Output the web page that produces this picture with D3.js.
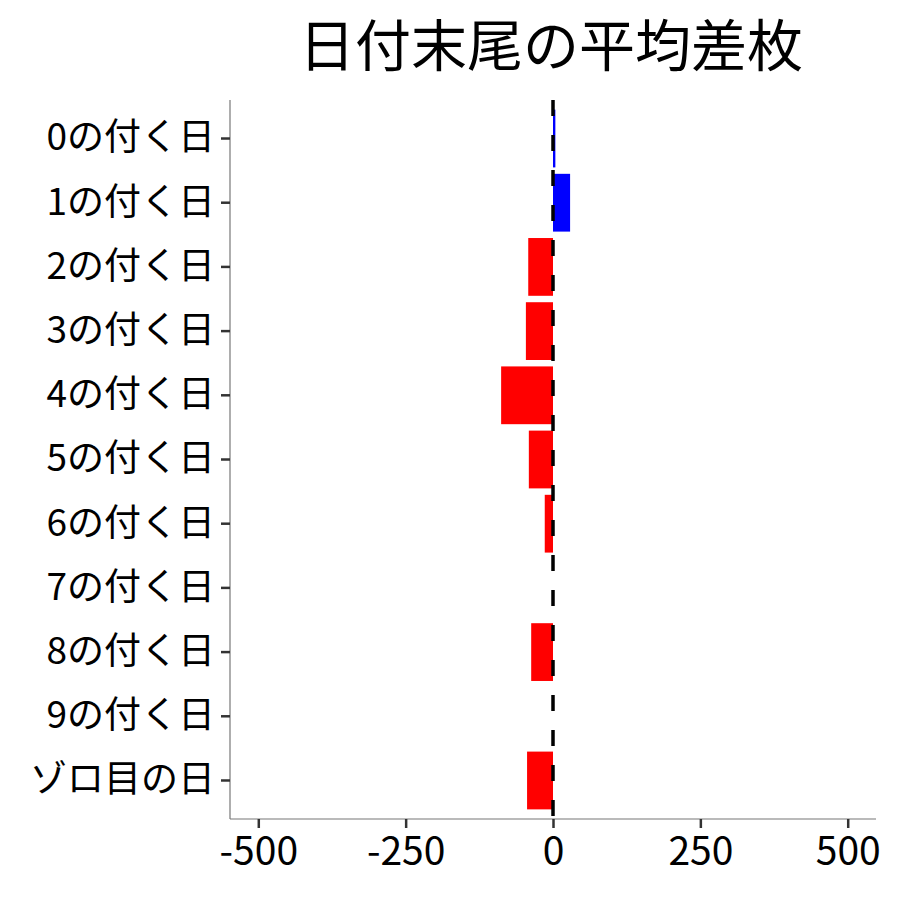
<!DOCTYPE html>
<html lang="ja">
<head>
<meta charset="UTF-8">
<title>日付末尾の平均差枚</title>
<script src="https://cdn.jsdelivr.net/npm/d3@7"></script>
<style>
  body { margin: 0; background: #fff; }
  text { font-family: "Noto Sans CJK JP", "Noto Sans", sans-serif; }
</style>
</head>
<body>
<script>
// categories (top to bottom) and mean difference values
var days = ["0の付く日", "1の付く日", "2の付く日", "3の付く日", "4の付く日",
            "5の付く日", "6の付く日", "7の付く日", "8の付く日", "9の付く日", "ゾロ目の日"];
var diffs = [4, 29, -42, -46, -88, -41, -14, 0, -37, 0, -44];
var xTicks = [-500, -250, 0, 250, 500];

var W = 900, H = 900;
var m = { left: 230, right: 876, top: 100, bottom: 819 };

var svg = d3.select("body").append("svg")
    .attr("width", W)
    .attr("height", H);

var x = d3.scaleLinear().domain([-548, 548]).range([m.left, m.right]);
var y = d3.scaleBand().domain(days).range([m.top, m.bottom])
    .paddingInner(0.1).paddingOuter(0.15);

// bars
svg.selectAll(".bar")
  .data(days.map((d, i) => ({ day: d, v: diffs[i] })))
  .enter()
  .append("rect")
    .attr("class", "bar")
    .attr("x", d => x(Math.min(0, d.v)))
    .attr("width", d => Math.abs(x(d.v) - x(0)))
    .attr("y", d => y(d.day))
    .attr("height", y.bandwidth())
    .attr("fill", d => d.v >= 0 ? "#0000ff" : "#ff0000");

// dashed zero line
svg.append("line")
    .attr("x1", x(0)).attr("x2", x(0))
    .attr("y1", m.top).attr("y2", m.bottom)
    .attr("stroke", "#000")
    .attr("stroke-width", 3.5)
    .attr("stroke-dasharray", "16,19");

// x axis
var gx = svg.append("g")
    .attr("transform", "translate(0," + m.bottom + ")")
    .call(d3.axisBottom(x).tickValues(xTicks).tickSize(9).tickPadding(8).tickFormat(d3.format("d")));
gx.select(".domain").attr("stroke", "#777").attr("stroke-width", 1.2).attr("d", "M" + m.left + ",0H" + m.right);
gx.selectAll(".tick line").attr("stroke", "#333").attr("stroke-width", 2.5);
gx.selectAll(".tick text").attr("fill", "#000").style("font-size", "39px").attr("dy", "0.75em");
gx.selectAll(".tick text").text(d => d < 0 ? "-" + Math.abs(d) : d);

// y axis
var gy = svg.append("g")
    .attr("transform", "translate(" + m.left + ",0)")
    .call(d3.axisLeft(y).tickSize(9).tickPadding(6));
gy.select(".domain").attr("stroke", "#777").attr("stroke-width", 1.2).attr("d", "M0," + m.top + "V" + m.bottom);
gy.selectAll(".tick line").attr("stroke", "#333").attr("stroke-width", 2.5);
gy.selectAll(".tick text").attr("fill", "#000").style("font-size", "37px");

// title
svg.append("text")
    .attr("x", (m.left + m.right) / 2 - 2)
    .attr("y", 66)
    .attr("text-anchor", "middle")
    .style("font-size", "56px")
    .text("日付末尾の平均差枚");
</script>
</body>
</html>
